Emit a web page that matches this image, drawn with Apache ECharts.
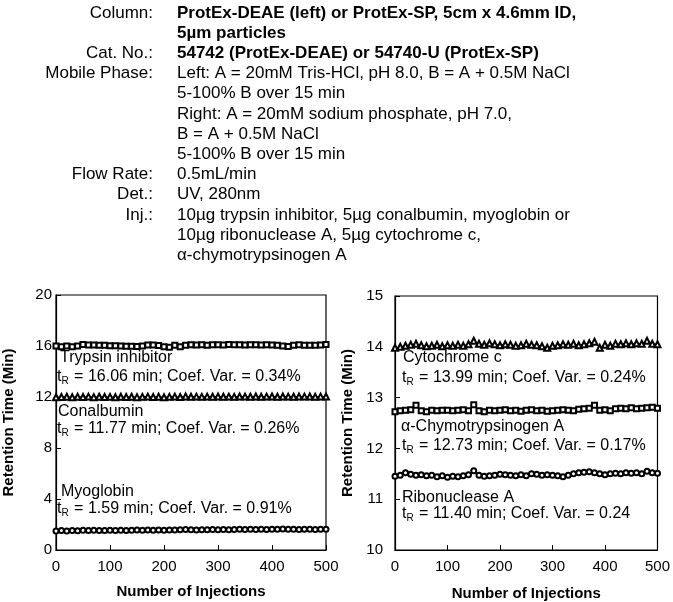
<!DOCTYPE html>
<html>
<head>
<meta charset="utf-8">
<script src="https://cdn.jsdelivr.net/npm/echarts@6/dist/echarts.min.js"></script>
<style>
html,body{margin:0;padding:0;background:#fff;}
#chart{width:673px;height:602px;}
</style>
</head>
<body>
<div id="chart"></div>
<script>
// ---- data ----
const injections = [0,10,20,30,40,50,60,70,80,90,100,110,120,130,140,150,160,170,180,190,200,210,220,230,240,250,260,270,280,290,300,310,320,330,340,350,360,370,380,390,400,410,420,430,440,450,460,470,480,490,500];

const trypsin = [16.00,15.95,16.00,15.95,16.00,16.12,16.08,16.08,16.05,16.05,
 16.02,16.02,16.00,15.98,15.98,15.97,16.00,16.08,16.08,16.03,
 15.95,15.90,16.05,15.95,16.05,16.10,16.08,16.10,16.05,16.10,
 16.10,16.08,16.12,16.10,16.10,16.08,16.10,16.10,16.08,16.10,
 16.08,16.05,16.00,15.97,16.05,16.10,16.05,16.05,16.05,16.08,16.12];

const conalbumin = [11.98,12.00,12.02,11.98,12.02,12.00,12.03,11.99,12.02,12.00,
 12.01,11.98,12.02,12.00,12.02,11.99,12.01,12.03,12.00,12.02,
 11.98,12.01,12.03,12.00,12.04,12.02,12.03,12.01,12.03,12.02,
 12.04,12.02,12.03,12.01,12.04,12.03,12.02,12.04,12.02,12.03,
 12.04,12.02,12.04,12.03,12.02,12.04,12.03,12.04,12.02,12.03,12.04];

const myoglobin = [1.50,1.52,1.50,1.53,1.51,1.54,1.52,1.55,1.53,1.52,
 1.54,1.52,1.55,1.53,1.54,1.56,1.54,1.56,1.55,1.57,
 1.55,1.57,1.56,1.58,1.60,1.58,1.57,1.59,1.58,1.60,
 1.58,1.60,1.59,1.61,1.63,1.61,1.62,1.60,1.62,1.61,
 1.63,1.62,1.64,1.62,1.63,1.61,1.63,1.62,1.61,1.63,1.62];

const cytochrome = [13.98,14.00,14.02,14.04,14.06,14.03,14.01,14.02,14.04,14.01,
 14.03,14.02,14.04,14.02,14.05,14.12,14.06,14.04,14.07,14.05,
 14.03,14.05,14.04,14.02,14.03,14.06,14.04,14.03,14.01,13.98,
 14.02,14.03,14.05,14.04,14.06,14.03,14.05,14.07,14.10,13.98,
 14.04,14.02,14.06,14.05,14.07,14.05,14.07,14.06,14.12,14.06,14.05];

const chymotrypsinogen = [12.72,12.74,12.75,12.76,12.85,12.74,12.72,12.75,12.74,12.75,
 12.75,12.74,12.75,12.76,12.74,12.86,12.74,12.72,12.75,12.74,
 12.75,12.76,12.74,12.75,12.73,12.75,12.76,12.74,12.75,12.73,
 12.74,12.75,12.76,12.75,12.74,12.77,12.78,12.79,12.85,12.75,
 12.76,12.74,12.78,12.79,12.78,12.80,12.78,12.79,12.80,12.81,12.79];

const ribonuclease = [11.45,11.47,11.52,11.49,11.47,11.48,11.46,11.47,11.44,11.46,
 11.43,11.45,11.44,11.46,11.48,11.56,11.47,11.45,11.46,11.47,
 11.49,11.48,11.47,11.46,11.48,11.46,11.50,11.49,11.47,11.48,
 11.47,11.46,11.44,11.47,11.50,11.52,11.53,11.54,11.52,11.50,
 11.48,11.50,11.51,11.50,11.52,11.51,11.52,11.50,11.55,11.52,11.51];

const xTicks = [0,100,200,300,400,500];
const leftYTicks = [0,4,8,12,16,20];
const rightYTicks = [10,11,12,13,14,15];

const headerLabels = ['Column:','','Cat. No.:','Mobile Phase:','','','','','Flow Rate:','Det.:','Inj.:','',''];
const headerValues = [
 'ProtEx-DEAE (left) or ProtEx-SP, 5cm x 4.6mm ID,',
 '5µm particles',
 '54742 (ProtEx-DEAE) or 54740-U (ProtEx-SP)',
 'Left: A = 20mM Tris-HCl, pH 8.0, B = A + 0.5M NaCl',
 '5-100% B over 15 min',
 'Right: A = 20mM sodium phosphate, pH 7.0,',
 'B = A + 0.5M NaCl',
 '5-100% B over 15 min',
 '0.5mL/min',
 'UV, 280nm',
 '10µg trypsin inhibitor, 5µg conalbumin, myoglobin or',
 '10µg ribonuclease A, 5µg cytochrome c,',
 'α-chymotrypsinogen A'
];
const boldRows = 3;

const annotations = [
 {name:'Trypsin inhibitor', tr:'16.06', cv:'0.34%', x:60, y:358, x2:57, y2:377},
 {name:'Conalbumin', tr:'11.77', cv:'0.26%', x:58, y:412, x2:57, y2:429},
 {name:'Myoglobin', tr:'1.59', cv:'0.91%', x:61, y:492, x2:57, y2:509},
 {name:'Cytochrome c', tr:'13.99', cv:'0.24%', x:403, y:358, x2:402, y2:378},
 {name:'α-Chymotrypsinogen A', tr:'12.73', cv:'0.17%', x:401, y:427, x2:402, y2:446},
 {name:'Ribonuclease A', tr:'11.40', cv:'0.24', x:402, y:498, x2:402, y2:514}
];

// ---- chart ----
const FONT = '"Liberation Sans", Arial, sans-serif';
const chart = echarts.init(document.getElementById('chart'), null, {renderer:'canvas'});

function pairs(ys){ return injections.map((x,i)=>[x, ys[i]]); }

function xAxisCfg(gi){
  return {
    gridIndex: gi, type:'value', min:0, max:500, interval:100,
    axisLine:{show:true, lineStyle:{color:'#000', width:1.2}},
    axisTick:{show:true, inside:true, length:5, lineStyle:{color:'#000'}},
    axisLabel:{color:'#000', fontSize:15, fontFamily:FONT, margin:9},
    splitLine:{show:false},
    name:'Number of Injections', nameLocation:'middle', nameGap: gi===0?34:36,
    nameTextStyle:{color:'#000', fontSize:15, fontWeight:'bold', fontFamily:FONT}
  };
}
function yAxisCfg(gi, min, max, interval, margin){
  return {
    gridIndex: gi, type:'value', min:min, max:max, interval:interval,
    axisLine:{show:true, lineStyle:{color:'#000', width:1.2}},
    axisTick:{show:true, inside:true, length:5, lineStyle:{color:'#000'}},
    axisLabel:{color:'#000', fontSize:15, fontFamily:FONT, margin:margin},
    splitLine:{show:false},
    name:'Retention Time (Min)', nameLocation:'middle', nameGap:40, nameRotate:90,
    nameTextStyle:{color:'#000', fontSize:15, fontWeight:'bold', fontFamily:FONT}
  };
}
function ser(gi, data, symbol, size){
  return {
    type:'line', xAxisIndex:gi, yAxisIndex:gi, data:pairs(data),
    symbol:symbol, symbolSize:size, showSymbol:true,
    lineStyle:{color:'#000', width:1},
    itemStyle:{color:'#000', borderColor:'#000', borderWidth:1},
    animation:false, silent:true
  };
}

const graphics = [];
const LINE0 = 13, LINEH = 20.2;
headerLabels.forEach((t,i)=>{
  if(!t) return;
  graphics.push({type:'text', x:153, y:LINE0 + i*LINEH,
    style:{text:t, align:'right', verticalAlign:'middle', font:'17px '+FONT, fill:'#000'}});
});
headerValues.forEach((t,i)=>{
  graphics.push({type:'text', x:177, y:LINE0 + i*LINEH,
    style:{text:t, align:'left', verticalAlign:'middle',
      font:(i<boldRows?'bold ':'')+'17px '+FONT, fill:'#000'}});
});
annotations.forEach(a=>{
  graphics.push({type:'text', x:a.x, y:a.y,
    style:{text:a.name, align:'left', verticalAlign:'middle', font:'16px '+FONT, fill:'#000'}});
  graphics.push({type:'text', x:a.x2, y:a.y2,
    style:{text:'t{sub|R} = '+a.tr+' min; Coef. Var. = '+a.cv, align:'left', verticalAlign:'middle',
      font:'16px '+FONT, fill:'#000',
      rich:{sub:{fontSize:10, fontFamily:FONT, fill:'#000', padding:[8,1,0,0]}}}});
});

chart.setOption({
  backgroundColor:'#fff',
  animation:false,
  grid:[
    {left:53, top:295, width:273, height:255, show:true, borderColor:'#000', borderWidth:1.2, containLabel:false},
    {left:395, top:296, width:270, height:258, show:true, borderColor:'#000', borderWidth:1.2, containLabel:false}
  ],
  xAxis:[xAxisCfg(0), xAxisCfg(1)],
  yAxis:[yAxisCfg(0,0,20,4,4), yAxisCfg(1,10,15,1,12)],
  series:[
    ser(0, trypsin, 'emptyRect', 5),
    ser(0, conalbumin, 'emptyTriangle', 6),
    ser(0, myoglobin, 'emptyCircle', 5),
    ser(1, cytochrome, 'emptyTriangle', 6),
    ser(1, chymotrypsinogen, 'emptyRect', 5),
    ser(1, ribonuclease, 'emptyCircle', 5)
  ],
  graphic: graphics
});
</script>
</body>
</html>
